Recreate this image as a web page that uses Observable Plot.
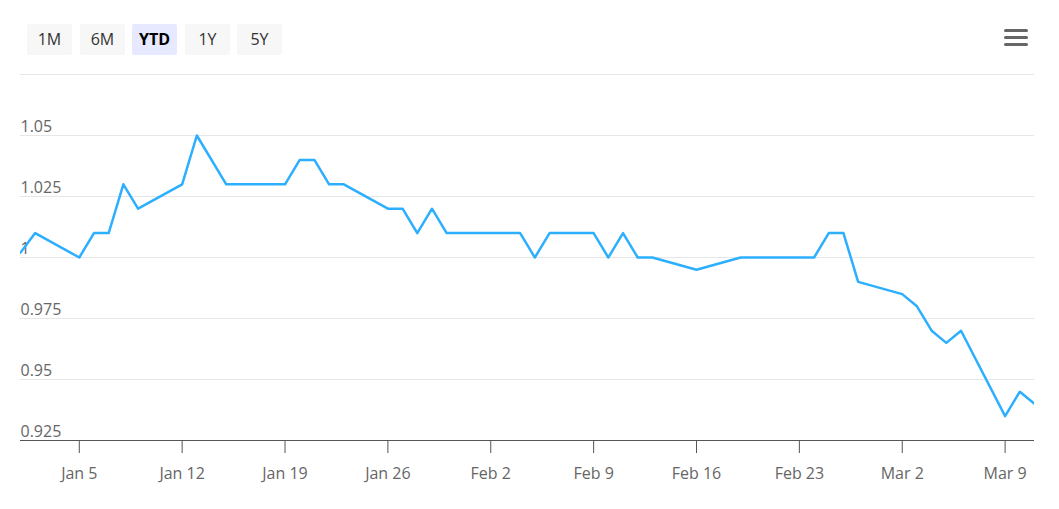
<!DOCTYPE html>
<html>
<head>
<meta charset="utf-8">
<script src="https://cdn.jsdelivr.net/npm/d3@7"></script>
<script src="https://cdn.jsdelivr.net/npm/@observablehq/plot@0.6"></script>
<style>
  html, body { margin: 0; padding: 0; background: #fff; }
  body { width: 1059px; height: 509px; overflow: hidden; font-family: "Open Sans", sans-serif; }
  #header { position: relative; width: 1059px; height: 60px; }
  .btn { position: absolute; top: 24px; width: 45px; height: 31px; line-height: 31px; text-align: center;
         background: #f7f7f7; color: #333; font-size: 16px; border-radius: 2px; }
  .btn.sel { background: #e6e9ff; color: #000; font-weight: bold; }
  .bar { position: absolute; left: 1004px; width: 24px; height: 3.5px; background: #666; border-radius: 2px; }
  #chart svg { display: block; }
</style>
</head>
<body>
<div id="header"></div>
<div id="chart"></div>
<script>
const buttons = ["1M", "6M", "YTD", "1Y", "5Y"];
const selectedButton = "YTD";

const dates = [
  "2026-01-01","2026-01-02","2026-01-05","2026-01-06","2026-01-07","2026-01-08","2026-01-09",
  "2026-01-12","2026-01-13","2026-01-15","2026-01-16","2026-01-19","2026-01-20","2026-01-21",
  "2026-01-22","2026-01-23","2026-01-26","2026-01-27","2026-01-28","2026-01-29","2026-01-30",
  "2026-02-02","2026-02-03","2026-02-04","2026-02-05","2026-02-06","2026-02-09","2026-02-10",
  "2026-02-11","2026-02-12","2026-02-13","2026-02-16","2026-02-19","2026-02-20","2026-02-23",
  "2026-02-24","2026-02-25","2026-02-26","2026-02-27","2026-03-02","2026-03-03","2026-03-04",
  "2026-03-05","2026-03-06","2026-03-09","2026-03-10","2026-03-11"
];
const values = [
  1.002, 1.01, 1.00, 1.01, 1.01, 1.03, 1.02,
  1.03, 1.05, 1.03, 1.03, 1.03, 1.04, 1.04,
  1.03, 1.03, 1.02, 1.02, 1.01, 1.02, 1.01,
  1.01, 1.01, 1.01, 1.00, 1.01, 1.01, 1.00,
  1.01, 1.00, 1.00, 0.995, 1.00, 1.00, 1.00,
  1.00, 1.01, 1.01, 0.99, 0.985, 0.98, 0.97,
  0.965, 0.97, 0.935, 0.945, 0.94
];

const yTicks = [0.925, 0.95, 0.975, 1, 1.025, 1.05];
const yTickLabels = ["0.925", "0.95", "0.975", "1", "1.025", "1.05"];
const yGrid = [0.95, 0.975, 1, 1.025, 1.05, 1.075];
const yDomain = [0.925, 1.075];
const xDomain = ["2026-01-01", "2026-03-11"];
const xTicks = ["2026-01-05","2026-01-12","2026-01-19","2026-01-26","2026-02-02","2026-02-09",
                "2026-02-16","2026-02-23","2026-03-02","2026-03-09"];

// header
const header = document.getElementById("header");
const btnLeft = [27, 80, 132, 185, 237];
buttons.forEach((b, i) => {
  const el = document.createElement("div");
  el.className = "btn" + (b === selectedButton ? " sel" : "");
  el.style.left = btnLeft[i] + "px";
  el.textContent = b;
  header.appendChild(el);
});
[28.5, 35.5, 42.5].forEach(t => {
  const bar = document.createElement("div");
  bar.className = "bar";
  bar.style.top = t + "px";
  header.appendChild(bar);
});

const parse = d3.utcParse("%Y-%m-%d");
const data = dates.map((d, i) => ({date: parse(d), value: values[i]}));
const yLabelData = yTicks.map((v, i) => ({v, label: yTickLabels[i]}));
const fmt = d3.utcFormat("%b %-d");

const chart = Plot.plot({
  width: 1059,
  height: 449,
  marginTop: 14,
  marginLeft: 20,
  marginRight: 25,
  marginBottom: 69,
  style: {fontFamily: "'Open Sans', sans-serif", fontSize: "16px", background: "#fff"},
  x: {type: "utc", domain: xDomain.map(parse), axis: null},
  y: {domain: yDomain, axis: null},
  marks: [
    Plot.ruleY(yGrid, {stroke: "#e6e6e6", strokeWidth: 1}),
    Plot.text(yLabelData, {y: "v", text: "label", frameAnchor: "left", textAnchor: "start",
                           dy: -9, fontSize: 16, fill: "#666"}),
    Plot.line(data, {x: "date", y: "value", stroke: "#2caffe", strokeWidth: 2.5, clip: true,
                     strokeLinejoin: "round"}),
    Plot.ruleY([yDomain[0]], {stroke: "#555", strokeWidth: 1}),
    Plot.axisX(xTicks.map(parse), {tickSize: 13, tickPadding: 14, stroke: "#555", fill: "#666",
                                    tickFormat: fmt, fontSize: 16})
  ]
});
document.getElementById("chart").appendChild(chart);
</script>
</body>
</html>
